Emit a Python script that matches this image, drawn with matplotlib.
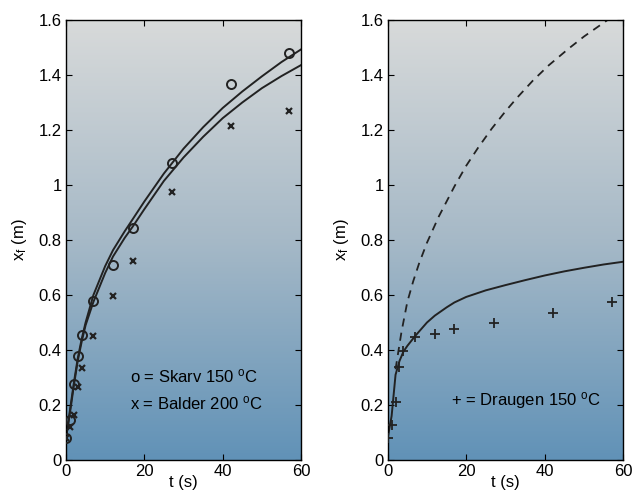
import numpy as np
import matplotlib
matplotlib.use("Agg")
import matplotlib.pyplot as plt
from matplotlib.colors import LinearSegmentedColormap
from matplotlib.ticker import FormatStrFormatter

plt.rcParams['font.family'] = ['Liberation Sans', 'DejaVu Sans']
plt.rcParams['mathtext.fontset'] = 'custom'
plt.rcParams['mathtext.rm'] = 'Liberation Sans'
plt.rcParams['mathtext.it'] = 'Liberation Sans:italic'

# measured points (time in s, front position in m)
t_meas = [0, 1, 2, 3, 4, 7, 12, 17, 27, 42, 57]
skarv = [0.08, 0.145, 0.276, 0.38, 0.456, 0.58, 0.71, 0.845, 1.08, 1.366, 1.48]
balder = [0.08, 0.121, 0.165, 0.267, 0.336, 0.45, 0.595, 0.725, 0.975, 1.215, 1.269]
draugen = [0.08, 0.126, 0.21, 0.339, 0.396, 0.449, 0.46, 0.475, 0.50, 0.536, 0.573]

# model curves, left panel
t_model = [0, 0.5, 1, 2, 3, 4, 5, 7, 10, 12, 15, 17, 20, 25, 30, 35, 40, 45, 50, 55, 60]
model_skarv = [0.08, 0.13, 0.18, 0.28, 0.37, 0.44, 0.50, 0.60, 0.705, 0.763, 0.832, 0.875,
               0.94, 1.042, 1.132, 1.21, 1.28, 1.34, 1.395, 1.447, 1.493]
model_balder = [0.08, 0.125, 0.17, 0.27, 0.36, 0.43, 0.49, 0.575, 0.68, 0.74, 0.808, 0.848,
                0.912, 1.015, 1.10, 1.175, 1.243, 1.30, 1.352, 1.396, 1.436]

# model curves, right panel
model_draugen = [0.08, 0.12, 0.16, 0.31, 0.36, 0.394, 0.415, 0.451, 0.50, 0.525, 0.555, 0.573,
                 0.593, 0.617, 0.636, 0.654, 0.671, 0.686, 0.699, 0.711, 0.721]
t_dash = [2, 3.5, 5, 6.5, 8, 10, 13, 17, 20, 23, 26.5, 30, 33, 37, 41, 46, 50, 55, 57]
model_dash = [0.33, 0.465, 0.575, 0.65, 0.715, 0.79, 0.885, 0.995, 1.07, 1.135, 1.205, 1.268,
              1.318, 1.38, 1.435, 1.495, 1.54, 1.59, 1.61]

fig = plt.figure(figsize=(6.34, 4.9), dpi=100)
ax1 = fig.add_axes([0.1041, 0.0612, 0.3707, 0.898])
ax2 = fig.add_axes([0.6115, 0.0612, 0.3716, 0.898])

bg = LinearSegmentedColormap.from_list('bg', ['#6192b7', '#a6b9c7', '#d8dada'])
grad = np.linspace(0, 1, 256).reshape(-1, 1)

for ax in (ax1, ax2):
    ax.imshow(grad, cmap=bg, origin='lower', aspect='auto', extent=[0, 1, 0, 1],
              transform=ax.transAxes, zorder=0)
    ax.set_xlim(0, 60)
    ax.set_ylim(0, 1.6)
    ax.set_xticks([0, 20, 40, 60])
    ax.set_yticks(np.arange(0, 1.61, 0.2))
    ax.yaxis.set_major_formatter(FormatStrFormatter('%g'))
    ax.tick_params(direction='in', top=True, right=True, length=4, width=0.8,
                   labelsize=12, pad=3)
    for s in ax.spines.values():
        s.set_linewidth(1.0)
    ax.set_xlabel('t (s)', fontsize=12, labelpad=-3)
    ax.set_ylabel('x$_{\\mathrm{f}}$ (m)', fontsize=12, labelpad=7)

# left panel
ax1.plot(t_model, model_skarv, color='#222222', lw=1.4, zorder=2)
ax1.plot(t_model, model_balder, color='#222222', lw=1.4, zorder=2)
ax1.plot(t_meas, skarv, 'o', ms=6.5, mfc='none', mec='#222222', mew=1.4, zorder=3)
ax1.plot(t_meas, balder, 'x', ms=4, mec='#222222', mew=1.6, zorder=3)
ax1.text(16.3, 0.303, 'o = Skarv 150 $^{\\mathrm{o}}$C', fontsize=12, va='center')
ax1.text(16.3, 0.206, 'x = Balder 200 $^{\\mathrm{o}}$C', fontsize=12, va='center')

# right panel
ax2.plot(t_model, model_draugen, color='#222222', lw=1.4, zorder=2)
ax2.plot(t_dash, model_dash, color='#222222', lw=1.3, ls=(0, (4.5, 3.5)), zorder=2)
ax2.plot(t_meas, draugen, '+', ms=7, mec='#222222', mew=1.3, zorder=3)
ax2.text(16.0, 0.215, '+ = Draugen 150 $^{\\mathrm{o}}$C', fontsize=12, va='center')

fig.savefig('out.png', dpi=100)
